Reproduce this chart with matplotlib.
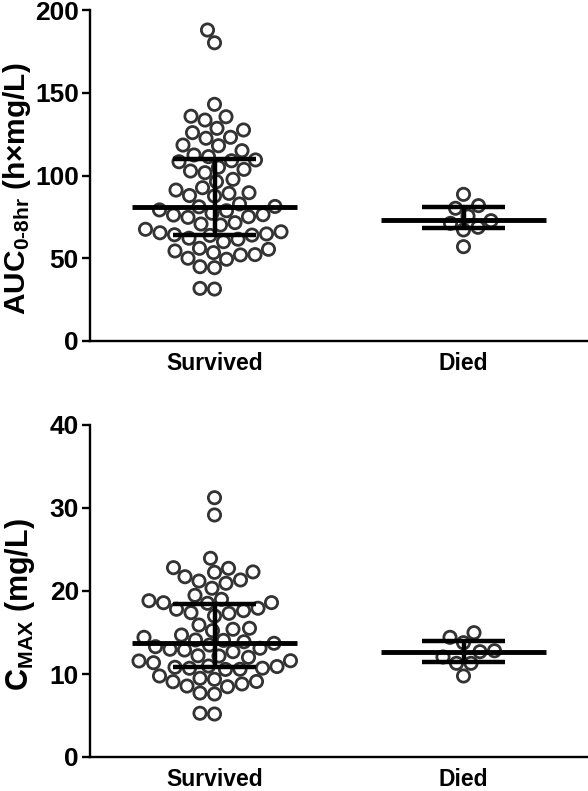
import numpy as np
import matplotlib
matplotlib.use('Agg')
import matplotlib.pyplot as plt

plt.rcParams['font.family'] = ['Liberation Sans', 'DejaVu Sans']
plt.rcParams['font.weight'] = 'bold'
plt.rcParams['mathtext.fontset'] = 'custom'
plt.rcParams['mathtext.rm'] = 'Liberation Sans:bold'
plt.rcParams['mathtext.it'] = 'Liberation Sans:bold'
plt.rcParams['mathtext.bf'] = 'Liberation Sans:bold'

groups = ['Survived', 'Died']

# AUC 0-8hr (h x mg/L)
auc_survived = [187.9, 180.2, 143.0, 135.5, 135.8, 133.5, 128.5, 127.5, 125.9, 123.1,
                122.5, 118.4, 118.0, 115.0, 112.4, 111.4, 109.4, 108.9, 108.3, 105.0,
                103.7, 102.7, 101.7, 97.7, 96.3, 91.2, 89.2, 87.6, 87.9, 89.6,
                92.6, 82.8, 81.1, 78.7, 79.2, 81.3, 76.1, 75.1, 74.7, 76.3,
                77.2, 71.5, 70.1, 70.7, 67.5, 64.7, 64.0, 66.0, 65.4, 64.2,
                63.8, 62.1, 61.5, 60.0, 56.0, 54.4, 55.4, 52.0, 50.0, 49.4,
                52.2, 53.4, 44.9, 44.3, 31.4, 31.8]
auc_died = [81.8, 88.6, 80.2, 75.5, 71.1, 68.7, 72.7, 67.1, 57.0]
auc_median = [81.1, 73.1]
auc_q1 = [64.0, 68.5]
auc_q3 = [109.8, 81.1]

# Cmax (mg/L)
cmax_survived = [31.24, 29.16, 23.94, 22.25, 21.72, 22.81, 22.73, 22.3, 21.33, 21.20,
                 20.93, 20.33, 19.48, 19.00, 18.59, 18.52, 18.6, 18.83, 17.31, 17.80,
                 17.63, 17.92, 16.99, 17.39, 15.90, 15.22, 15.39, 15.51, 14.70, 14.42,
                 13.70, 14.10, 14.05, 13.89, 13.49, 13.29, 12.98, 12.89, 13.10, 12.69,
                 12.17, 12.01, 12.2, 11.57, 11.36, 11.60, 10.96, 10.81, 10.69, 10.57,
                 10.55, 10.7, 10.9, 9.76, 9.36, 9.48, 9.07, 8.55, 8.47, 8.80,
                 9.1, 7.71, 7.59, 5.18, 5.27]
cmax_died = [14.98, 14.42, 13.77, 12.80, 12.69, 12.05, 11.29, 11.29, 9.76]
cmax_median = [13.7, 12.7]
cmax_q1 = [10.8, 11.5]
cmax_q3 = [18.4, 14.0]


def swarm_x(ax, xpos, values, gap=14.5):
    # greedy beeswarm in display pixels, returns x in data coords
    vals = np.asarray(values, dtype=float)
    pts = ax.transData.transform(np.column_stack([np.full(len(vals), xpos), vals]))
    xs = pts[:, 0].copy()
    placed = []
    for n, i in enumerate(np.argsort(vals)):
        x0, y0 = pts[i]
        sign = 1 if n % 2 == 0 else -1
        done = False
        for k in range(0, 400):
            cands = (0.0,) if k == 0 else (sign * k * 0.5, -sign * k * 0.5)
            for dx in cands:
                if all((px - x0 - dx) ** 2 + (py - y0) ** 2 >= gap ** 2 for px, py in placed):
                    placed.append((x0 + dx, y0))
                    xs[i] = x0 + dx
                    done = True
                    break
            if done:
                break
    return ax.transData.inverted().transform(np.column_stack([xs, pts[:, 1]]))[:, 0]


def dot_panel(ax, data, med, q1, q3, ymax, ystep, ylabel, lsize):
    ax.set_xlim(-0.5, 1.5)
    ax.set_ylim(0, ymax)
    for i, vals in enumerate(data):
        xs = swarm_x(ax, i, vals)
        ax.scatter(xs, vals, s=78, facecolors='none', edgecolors='#333333',
                   linewidths=2.0, zorder=2, clip_on=False)
    for i in range(len(data)):
        ax.hlines(med[i], i - 0.33, i + 0.33, color='black', lw=3.5, zorder=3)
        ax.hlines([q1[i], q3[i]], i - 0.165, i + 0.165, color='black', lw=3.2, zorder=3)
        ax.vlines(i, q1[i], q3[i], color='black', lw=3.2, zorder=3)

    ax.spines['top'].set_visible(False)
    ax.spines['right'].set_visible(False)
    ax.spines['left'].set_linewidth(1.7)
    ax.spines['bottom'].set_linewidth(1.7)
    ax.set_yticks(np.arange(0, ymax + 1, ystep))
    ax.set_xticks(range(len(groups)), groups)
    ax.tick_params(axis='y', length=6, width=1.7, labelsize=19, pad=2)
    ax.tick_params(axis='x', length=0, labelsize=16.5, pad=8)
    ax.set_ylabel(ylabel, fontsize=lsize, fontweight='bold')


fig = plt.figure(figsize=(5.88, 7.91), dpi=100)
ax1 = fig.add_axes([90 / 588, 1 - 341 / 791, 498 / 588, 331 / 791])
ax2 = fig.add_axes([90 / 588, 1 - 757 / 791, 498 / 588, 332 / 791])

dot_panel(ax1, [auc_survived, auc_died], auc_median, auc_q1, auc_q3, 200, 50,
          r'AUC$_{\mathrm{0\text{-}8hr}}$ (h×mg/L)', 21.5)
dot_panel(ax2, [cmax_survived, cmax_died], cmax_median, cmax_q1, cmax_q3, 40, 10,
          r'C$_{\mathrm{MAX}}$ (mg/L)', 22)
ax1.yaxis.set_label_coords(-0.114, 0.46)
ax2.yaxis.set_label_coords(-0.106, 0.46)

fig.savefig('out.png', dpi=100)
